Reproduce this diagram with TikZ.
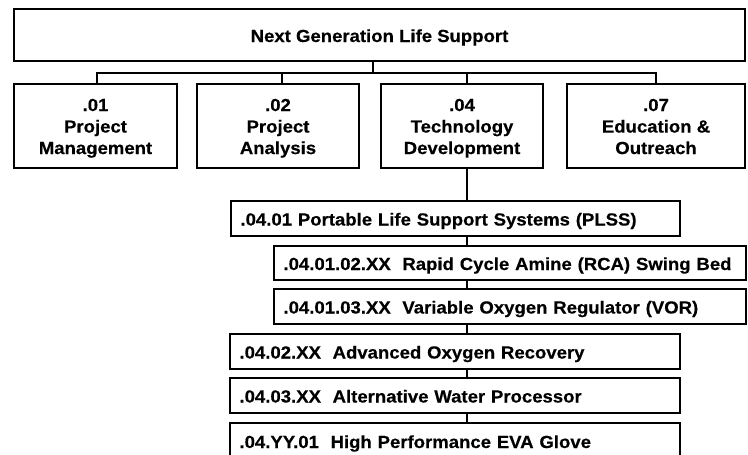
\documentclass[tikz,border=0pt]{standalone}
\usepackage{fontspec}
\setmainfont{Liberation Sans}[FakeStretch=1.06,FakeBold=0.4]
\begin{document}
\begin{tikzpicture}[x=1pt,y=-1pt,
  every node/.style={font=\fontsize{17.5}{21.5}\selectfont\bfseries, text=black},
  box/.style={draw=black, line width=2pt, fill=white, inner sep=0pt, outer sep=0pt, align=center},
  lowbox/.style={draw=black, line width=2pt, fill=white, inner xsep=9.5pt, inner ysep=0pt, outer sep=0pt, align=left, anchor=west, text height=14pt, text depth=0pt},
  conn/.style={draw=black, line width=2pt}]
\useasboundingbox (0,0) rectangle (748,455);
\fill[white] (0,0) rectangle (748,455);
\clip (0,0) rectangle (748,455);
\newcommand{\firstline}{\rule{0pt}{16.8pt}}
\newcommand{\lastline}{\vphantom{g}}
% top
\node[box, minimum width=731pt, minimum height=52pt, text height=14pt, text depth=0pt] (top) at (379.5,35) {Next Generation Life Support};
% second row
\node[box, minimum width=163pt, minimum height=84pt] (b1) at (95.5,126) {\firstline.01\\Project\\Management\lastline};
\node[box, minimum width=162pt, minimum height=84pt] (b2) at (278,126) {\firstline.02\\Project\\Analysis\lastline};
\node[box, minimum width=162pt, minimum height=84pt] (b3) at (462,126) {\firstline.04\\Technology\\Development\lastline};
\node[box, minimum width=178pt, minimum height=84pt] (b4) at (656,126) {\firstline.07\\Education \&\\Outreach\lastline};
% lower boxes
\node[lowbox, text width=430pt, minimum height=35pt] (plss) at (231,218.5) {.04.01 Portable Life Support Systems (PLSS)};
\node[lowbox, text width=453pt, minimum height=34pt] (rca) at (274,263) {.04.01.02.XX\ \ Rapid Cycle Amine (RCA) Swing Bed};
\node[lowbox, text width=453pt, minimum height=35pt] (vor) at (274,306.5) {.04.01.03.XX\ \ Variable Oxygen Regulator (VOR)};
\node[lowbox, text width=431pt, minimum height=35pt] (aor) at (230,351.5) {.04.02.XX\ \ Advanced Oxygen Recovery};
\node[lowbox, text width=431pt, minimum height=35pt] (awp) at (230,395.5) {.04.03.XX\ \ Alternative Water Processor};
\node[lowbox, text width=431pt, minimum height=36pt] (glove) at (230,441) {.04.YY.01\ \ High Performance EVA Glove};
% junctions
\coordinate (j0) at (373,72.7);
\coordinate (j1) at (97,72.7);
\coordinate (j2) at (282,72.7);
\coordinate (j3) at (467,72.7);
\coordinate (j4) at (656,72.7);
% connectors
\draw[conn] (top.south -| j0) -- (j0);
\draw[conn] (j1 |- b1.north) -- (j1) -- (j4) -- (j4 |- b4.north);
\draw[conn] (j2) -- (j2 |- b2.north);
\draw[conn] (j3) -- (j3 |- b3.north);
\draw[conn] (b3.south -| j3) -- (plss.north -| j3);
\draw[conn] (plss.south -| j3) -- (rca.north -| j3);
\draw[conn] (rca.south -| j3) -- (vor.north -| j3);
\draw[conn] (vor.south -| j3) -- (aor.north -| j3);
\draw[conn] (aor.south -| j3) -- (awp.north -| j3);
\draw[conn] (awp.south -| j3) -- (glove.north -| j3);
\end{tikzpicture}
\end{document}
